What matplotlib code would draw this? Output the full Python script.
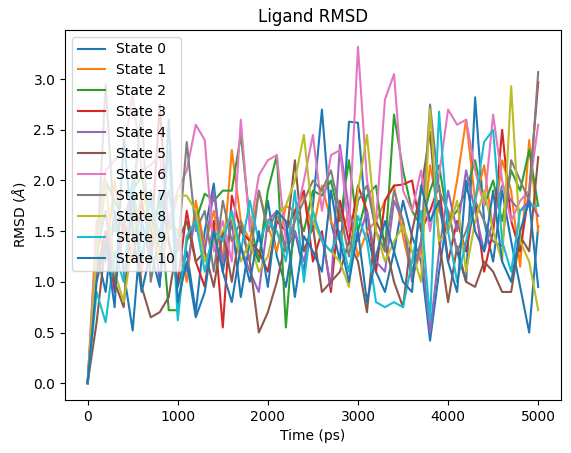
import numpy as np
import matplotlib.pyplot as plt

# time axis (ps)
time_ps = np.arange(0, 5001, 100)

state_0 = [0.0, 1.3, 0.9, 1.7, 1.1, 0.52, 1.6, 1.2, 1.9, 1.4,
           0.95, 1.3, 0.7, 1.5, 1.97, 1.1, 1.6, 0.85, 1.4, 1.2,
           1.8, 1.25, 0.95, 1.5, 1.1, 1.75, 2.7, 1.6, 1.2, 2.58,
           2.57, 1.5, 1.1, 0.9, 1.3, 1.8, 1.45, 1.2, 0.42, 1.1,
           1.7, 1.3, 1.0, 2.82, 1.6, 1.2, 1.9, 1.4, 0.95, 0.5,
           1.55]
state_1 = [0.0, 1.6, 1.2, 2.0, 1.4, 1.75, 1.1, 1.9, 1.3, 1.6,
           1.5, 1.0, 1.8, 1.35, 1.7, 1.2, 2.3, 1.6, 1.4, 1.9,
           1.55, 1.3, 1.75, 1.7, 1.85, 1.5, 1.95, 1.6, 1.4, 1.7,
           1.25, 1.5, 1.6, 1.8, 1.95, 1.45, 1.05, 1.3, 2.15, 1.7,
           1.5, 2.0, 2.6, 1.8, 2.15, 1.5, 2.2, 1.9, 1.15, 2.4,
           1.5]
state_2 = [0.0, 1.2, 2.0, 1.8, 1.6, 1.9, 2.05, 1.5, 1.8, 0.72,
           0.72, 1.4, 1.6, 1.87, 1.8, 1.9, 1.9, 2.45, 1.6, 1.2,
           1.9, 2.25, 0.55, 1.7, 1.5, 1.9, 1.85, 2.0, 1.6, 2.2,
           1.5, 1.85, 1.95, 1.3, 2.65, 2.1, 1.7, 1.55, 1.9, 2.15,
           1.6, 1.7, 1.9, 2.2, 1.75, 2.0, 1.6, 2.1, 1.9, 2.3,
           1.75]
state_3 = [0.0, 1.1, 1.5, 0.9, 1.6, 1.2, 1.8, 1.3, 2.75, 1.4,
           1.0, 1.7, 1.2, 0.95, 1.6, 0.55, 1.85, 1.5, 1.4, 1.3,
           1.1, 1.6, 1.5, 1.7, 1.9, 1.2, 1.5, 0.9, 1.8, 1.4,
           1.95, 1.7, 1.1, 1.8, 1.95, 1.96, 2.0, 1.5, 1.7, 1.95,
           1.2, 1.6, 1.3, 1.8, 1.1, 1.5, 2.5, 1.6, 1.3, 1.9,
           2.97]
state_4 = [0.0, 1.3, 1.7, 1.0, 1.5, 2.0, 1.2, 1.85, 1.0, 1.6,
           1.4, 1.1, 1.7, 1.3, 1.9, 1.2, 1.6, 1.35, 1.1, 0.9,
           1.6, 1.7, 1.3, 1.5, 1.2, 1.6, 1.45, 0.95, 2.35, 1.7,
           1.4, 1.7, 1.2, 1.1, 1.8, 1.6, 1.0, 1.4, 0.5, 1.3,
           1.9, 1.5, 2.1, 1.7, 1.3, 1.6, 1.95, 1.8, 1.7, 1.8,
           1.65]
state_5 = [0.0, 0.6, 1.4, 1.0, 0.75, 1.9, 0.95, 0.65, 0.7, 0.85,
           1.4, 1.6, 1.2, 1.3, 0.95, 1.5, 1.0, 1.55, 1.2, 0.5,
           0.7, 1.0, 1.4, 2.2, 1.3, 1.55, 0.9, 1.0, 1.1, 1.4,
           1.2, 0.7, 1.6, 1.4, 1.0, 0.75, 1.5, 1.9, 2.48, 1.4,
           0.8, 1.35, 1.0, 0.95, 1.2, 1.1, 0.9, 0.9, 1.45, 1.3,
           2.23]
state_6 = [0.0, 1.5, 2.1, 2.2, 2.3, 2.85, 2.1, 2.15, 2.25, 1.6,
           1.9, 2.1, 2.55, 2.4, 1.3, 1.6, 1.2, 2.6, 1.5, 2.05,
           2.2, 2.25, 1.4, 1.6, 2.0, 2.45, 1.7, 2.25, 2.3, 1.5,
           3.32, 2.0, 1.6, 2.8, 3.05, 1.9, 1.7, 2.1, 1.5, 2.05,
           2.7, 2.55, 2.6, 2.1, 1.75, 2.65, 2.0, 1.6, 1.8, 1.9,
           2.55]
state_7 = [0.0, 1.2, 2.95, 1.5, 1.6, 1.8, 2.7, 1.0, 1.5, 1.9,
           1.3, 2.38, 1.5, 1.7, 1.1, 1.8, 1.4, 1.6, 1.2, 1.9,
           1.5, 1.7, 1.3, 1.6, 1.8, 2.0, 1.9, 2.1, 1.7, 1.25,
           1.8, 1.95, 1.5, 1.3, 1.9, 1.6, 1.1, 1.4, 2.75, 1.9,
           1.7, 1.3, 1.5, 1.8, 1.6, 1.4, 1.35, 2.2, 2.0, 1.8,
           3.07]
state_8 = [0.0, 1.3, 2.0, 1.1, 0.8, 1.4, 1.9, 1.6, 1.2, 1.5,
           1.85, 1.85, 1.7, 1.2, 1.4, 1.5, 1.65, 1.2, 1.4, 1.1,
           1.25, 1.65, 1.75, 2.0, 2.45, 1.6, 1.4, 1.3, 1.2, 0.95,
           1.9, 2.45, 1.5, 1.2, 1.4, 1.55, 1.3, 1.0, 2.7, 1.4,
           1.5, 1.8, 1.1, 1.6, 1.9, 1.5, 1.2, 2.93, 1.4, 1.2,
           0.72]
state_9 = [0.0, 0.9, 0.6, 1.3, 1.0, 2.0, 1.2, 1.9, 1.4, 2.3,
           0.62, 1.45, 1.6, 1.1, 1.5, 1.4, 1.7, 1.3, 1.8, 1.4,
           1.6, 1.5, 1.2, 1.9, 1.0, 1.7, 1.4, 1.3, 1.5, 1.1,
           1.65, 1.4, 0.8, 0.75, 0.8, 0.75, 1.2, 1.7, 0.62, 2.68,
           1.5, 1.0, 1.4, 1.8, 2.38, 2.5, 1.4, 1.1, 1.7, 1.75,
           1.75]
state_10 = [0.0, 1.0, 1.4, 0.75, 2.4, 1.5, 0.9, 1.3, 0.95, 2.6,
            0.8, 1.2, 0.65, 0.9, 1.5, 1.1, 0.8, 1.35, 1.0, 1.5,
            0.95, 1.7, 1.6, 0.85, 1.45, 1.3, 1.1, 1.9, 1.4, 1.0,
            1.5, 0.8, 1.25, 1.6, 1.3, 1.0, 0.9, 1.95, 1.6, 1.8,
            1.2, 0.9, 2.0, 1.5, 1.3, 1.9, 1.2, 1.0, 1.5, 1.8,
            0.95]

states = [state_0, state_1, state_2, state_3, state_4, state_5,
          state_6, state_7, state_8, state_9, state_10]

fig, ax = plt.subplots(figsize=(5.71, 4.53), dpi=100)
for i, rmsd in enumerate(states):
    ax.plot(time_ps, rmsd, label=f"State {i}")

ax.set_title("Ligand RMSD")
ax.set_xlabel("Time (ps)")
ax.set_ylabel(r"RMSD ($\AA$)")
ax.legend(loc="upper left")

plt.subplots_adjust(left=0.114, right=0.982, top=0.934, bottom=0.117)
plt.savefig("out.png", dpi=100)
